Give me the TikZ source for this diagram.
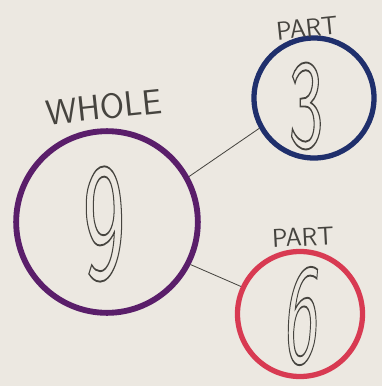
\documentclass[tikz,border=0pt]{standalone}
\usepackage{xcolor}
\usepackage{tikz}
\usetikzlibrary{positioning, arrows.meta}
\definecolor{wPurple}{HTML}{5A1E6A}
\definecolor{pBlue}{HTML}{1F2F6C}
\definecolor{pRed}{HTML}{D83A52}
\definecolor{paper}{HTML}{ECE8E1}
\definecolor{pencil}{HTML}{46443F}
\tikzset{
  ring/.style={circle, inner sep=0pt, line width=4.5pt},
  digit/.style={text=pencil, font=\sffamily\fontsize{#1}{#1}\selectfont, inner sep=0pt, transform shape},
  tag/.style={text=pencil, font=\sffamily\fontsize{#1}{#1}\selectfont, inner sep=0pt, rotate=6},
  link/.style={draw=pencil, line width=0.7pt}
}
\newcommand{\drawn}[1]{\special{pdf:literal direct 1 Tr 1.6 w}#1\special{pdf:literal direct 0 Tr}}

\begin{document}
\begin{tikzpicture}[x=0.03cm, y=-0.03cm]
  \useasboundingbox[fill=paper] (0,0) rectangle (382,386);
  % circles
  \node[ring, draw=wPurple, line width=5pt, minimum size=5.45cm] (whole) at (107,222) {};
  \node[ring, draw=pBlue, minimum size=3.6cm] (partA) at (314,98) {};
  \node[ring, draw=pRed, minimum size=3.75cm] (partB) at (300,314) {};
  % numbers
  \node[digit=143, xscale=0.54] (nine) at (104,224) {\drawn{9}};
  \node[digit=108, xscale=0.58] (three) at (306,106) {\drawn{3}};
  \node[digit=122, xscale=0.5, xslant=0.15] (six) at (303,316) {\drawn{6}};
  % labels
  \node[tag=30] (wholeLabel) at (104,107) {WHOLE};
  \node[tag=22] (partALabel) at (307,28) {PART};
  \node[tag=22, rotate=-3] (partBLabel) at (303,237) {PART};
  % connectors
  \draw[link] (whole.29) -- (partA.209);
  \draw[link] (whole.-27) -- (partB.155);
\end{tikzpicture}
\end{document}
